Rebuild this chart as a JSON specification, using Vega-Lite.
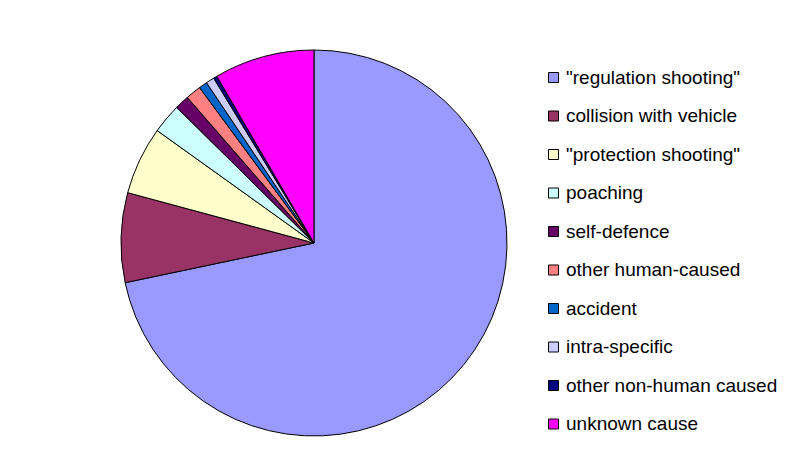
{
  "$schema": "https://vega.github.io/schema/vega-lite/v6.json",
  "autosize": {"type": "none"},
  "padding": {"left": 12, "top": 8, "right": 186, "bottom": 0},
  "width": 604,
  "height": 466,
  "background": "white",
  "config": {"view": {"stroke": null}},
  "data": {
    "values": [
      {"cause": "\"regulation shooting\"", "share": 71.7, "order": 1},
      {"cause": "collision with vehicle", "share": 7.5, "order": 2},
      {"cause": "\"protection shooting\"", "share": 5.7, "order": 3},
      {"cause": "poaching", "share": 2.5, "order": 4},
      {"cause": "self-defence", "share": 1.2, "order": 5},
      {"cause": "other human-caused", "share": 1.3, "order": 6},
      {"cause": "accident", "share": 0.7, "order": 7},
      {"cause": "intra-specific", "share": 0.7, "order": 8},
      {"cause": "other non-human caused", "share": 0.3, "order": 9},
      {"cause": "unknown cause", "share": 8.4, "order": 10}
    ]
  },
  "mark": {"type": "arc", "outerRadius": 193, "stroke": "black", "strokeWidth": 1, "yOffset": 2},
  "encoding": {
    "theta": {"field": "share", "type": "quantitative", "stack": true},
    "order": {"field": "order", "type": "quantitative"},
    "color": {
      "field": "cause",
      "type": "nominal",
      "sort": ["\"regulation shooting\"", "collision with vehicle", "\"protection shooting\"", "poaching", "self-defence", "other human-caused", "accident", "intra-specific", "other non-human caused", "unknown cause"],
      "scale": {
        "domain": ["\"regulation shooting\"", "collision with vehicle", "\"protection shooting\"", "poaching", "self-defence", "other human-caused", "accident", "intra-specific", "other non-human caused", "unknown cause"],
        "range": ["#9999FF", "#993366", "#FFFFCC", "#CCFFFF", "#660066", "#FF8080", "#0066CC", "#CCCCFF", "#000080", "#FF00FF"]
      },
      "legend": {
        "title": null,
        "orient": "none",
        "legendX": 532,
        "legendY": 60,
        "symbolType": "square",
        "symbolSize": 100,
        "symbolStrokeColor": "black",
        "symbolStrokeWidth": 1,
        "symbolOpacity": 1,
        "labelFont": "Liberation Sans",
        "labelFontSize": 19,
        "labelColor": "black",
        "labelOffset": 3,
        "labelLimit": 300,
        "rowPadding": 18.5
      }
    }
  }
}
